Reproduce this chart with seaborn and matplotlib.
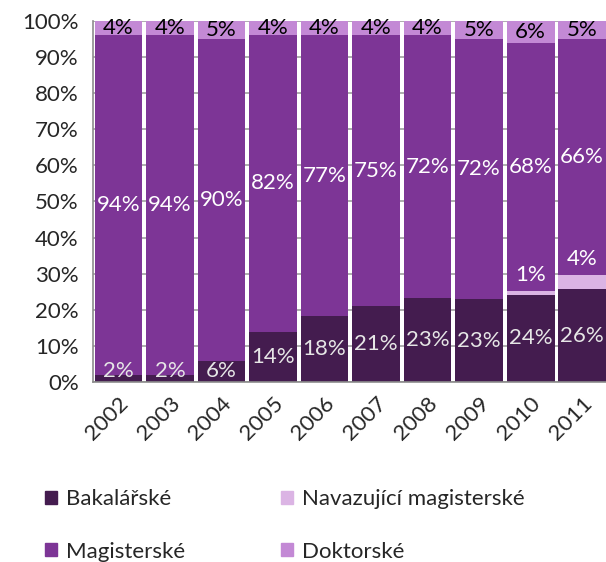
import numpy as np
import pandas as pd
import matplotlib
matplotlib.use("Agg")
import matplotlib.pyplot as plt
import matplotlib.patches as mpatches
import seaborn as sns

years = ["2002", "2003", "2004", "2005", "2006", "2007", "2008", "2009", "2010", "2011"]
bakalarske = [2, 2, 6, 14, 18, 21, 23, 23, 24, 26]
navazujici = [0, 0, 0, 0, 0, 0, 0, 0, 1, 4]
magisterske = [94, 94, 90, 82, 77, 75, 72, 72, 68, 66]
doktorske = [4, 4, 5, 4, 4, 4, 4, 5, 6, 5]

# stacking order bottom -> top
series_names = ["Bakalářské", "Navazující magisterské", "Magisterské", "Doktorské"]
colors = ["#441c4f", "#dbb4e4", "#7d3596", "#c389d5"]
label_colors = ["#e6e6e6", "white", "white", "black"]

sns.set_style("white")
plt.rcParams["font.family"] = ["Lato", "DejaVu Sans"]
FS = 16

df = pd.DataFrame({"year": years, "Bakalářské": bakalarske, "Navazující magisterské": navazujici,
                   "Magisterské": magisterske, "Doktorské": doktorske})
totals = df[series_names].sum(axis=1)
shares = df[series_names].div(totals, axis=0) * 100

fig = plt.figure(figsize=(6.06, 5.62), dpi=100)
ax = fig.add_axes([0.153, 0.320, 0.850, 0.643])

bottom = np.zeros(len(years))
for name, col in zip(series_names, colors):
    sns.barplot(x=df["year"], y=shares[name], bottom=bottom, color=col,
                width=0.93, saturation=1, ax=ax, zorder=2, linewidth=0)
    bottom = bottom + shares[name].values

# value labels
bottom = np.zeros(len(years))
for name, lc in zip(series_names, label_colors):
    for i, v in enumerate(df[name]):
        h = shares[name].iloc[i]
        if v == 0:
            continue
        if name == "Navazující magisterské":
            ypos = bottom[i] + h + 4.5
        else:
            ypos = max(bottom[i] + h / 2, 3)
        ax.text(i, ypos, f"{v}%", ha="center", va="center", color=lc, fontsize=FS, zorder=3)
    bottom = bottom + shares[name].values

ax.set_ylim(0, 100)
ax.set_xlim(-0.5, len(years) - 0.5)
ax.set_yticks(np.arange(0, 101, 10))
ax.set_yticklabels([f"{t}%" for t in range(0, 101, 10)], fontsize=FS)
ax.set_xticks(np.arange(-0.5, len(years), 1), minor=True)
ax.set_xticks(range(len(years)))
ax.set_xticklabels(years, rotation=45, ha="right", rotation_mode="anchor", fontsize=FS)
ax.tick_params(axis="x", which="major", length=0, pad=8)
ax.tick_params(axis="x", which="minor", length=6, color="#8c8c8c", width=1.2)
ax.tick_params(axis="y", length=6, color="#8c8c8c", width=1.2, pad=4)
ax.set_xlabel("")
ax.set_ylabel("")
ax.yaxis.grid(True, color="#a0a0a0", linewidth=1.2, zorder=0)
ax.set_axisbelow(True)
for s in ["top", "right"]:
    ax.spines[s].set_visible(False)
for s in ["left", "bottom"]:
    ax.spines[s].set_color("#8c8c8c")
    ax.spines[s].set_linewidth(1.2)

legend_order = ["Bakalářské", "Magisterské", "Navazující magisterské", "Doktorské"]
color_map = dict(zip(series_names, colors))
handles = [mpatches.Patch(color=color_map[n], label=n) for n in legend_order]
fig.legend(handles=handles, ncol=2, frameon=False, fontsize=FS,
           loc="upper left", bbox_to_anchor=(0.06, 0.145),
           handlelength=0.55, handleheight=0.55, handletextpad=0.4,
           labelspacing=1.45, columnspacing=4.3, borderaxespad=0)

fig.savefig("out.png", dpi=100)
